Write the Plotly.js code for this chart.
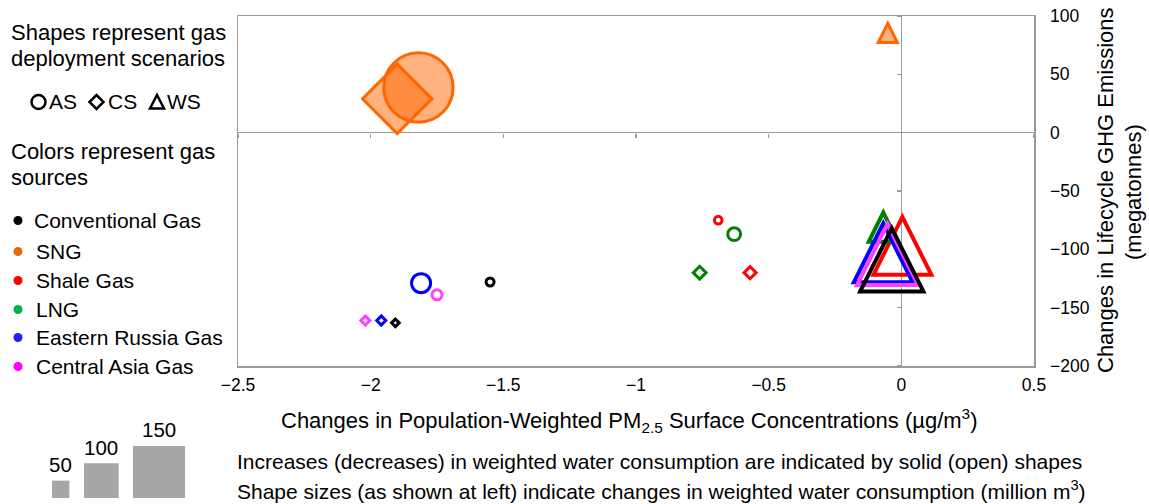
<!DOCTYPE html>
<html><head><meta charset="utf-8">
<script src="https://cdn.plot.ly/plotly-3.0.1.min.js"></script>
<style>html,body{margin:0;padding:0;background:#fff}#chart{width:1149px;height:504px}</style>
</head><body><div id="chart"></div>
<script>
// ---------------- DATA ----------------
const scenarios = ['AS', 'CS', 'WS'];
const sources = ['SNG', 'Shale Gas', 'LNG', 'Eastern Russia Gas', 'Central Asia Gas', 'Conventional Gas'];
// Change in population-weighted PM2.5 (ug/m3), per scenario [AS, CS, WS]
const pmSNG          = [-1.82, -1.90, -0.051];
const pmShale        = [-0.69, -0.57, 0.004];
const pmLNG          = [-0.63, -0.76, -0.068];
const pmEastRussia   = [-1.81, -1.96, -0.068];
const pmCentralAsia  = [-1.75, -2.02, -0.052];
const pmConventional = [-1.55, -1.907, -0.036];
// Change in lifecycle GHG emissions (megatonnes)
const ghgSNG          = [38.7, 29, 85.5];
const ghgShale        = [-75, -120, -97];
const ghgLNG          = [-87, -120, -81];
const ghgEastRussia   = [-129, -161, -103];
const ghgCentralAsia  = [-139, -161, -104.5];
const ghgConventional = [-128, -163, -109];
// Change in weighted water consumption (million m3); + solid, - open
const waterSNG          = [200, 200, 55];
const waterShale        = [-22, -35, -167];
const waterLNG          = [-37, -37, -84];
const waterEastRussia   = [-55, -26, -170];
const waterCentralAsia  = [-29, -26, -176];
const waterConventional = [-23, -22, -182];
// size legend
const sizeLegendValues = [50, 100, 150];
const legendSources = ['Conventional Gas', 'SNG', 'Shale Gas', 'LNG', 'Eastern Russia Gas', 'Central Asia Gas'];

// ---------------- STYLE ----------------
const FONT = '"Liberation Sans", Arial, Helvetica, sans-serif';
const lineColors = {'SNG':'#FF6600','Shale Gas':'#FF0000','LNG':'#008000','Eastern Russia Gas':'#0000FF','Central Asia Gas':'#FF40FF','Conventional Gas':'#000000'};
const dotColors = {'Conventional Gas':'#000000','SNG':'#E46C0A','Shale Gas':'#FF0000','LNG':'#00B050','Eastern Russia Gas':'#1F1FFF','Central Asia Gas':'#FF00FF'};
const solidFill = 'rgba(255,102,0,0.5)';
const pxPerUnit = 0.347;        // marker box side (px) per million m3

const pmBy = {'SNG':pmSNG,'Shale Gas':pmShale,'LNG':pmLNG,'Eastern Russia Gas':pmEastRussia,'Central Asia Gas':pmCentralAsia,'Conventional Gas':pmConventional};
const ghgBy = {'SNG':ghgSNG,'Shale Gas':ghgShale,'LNG':ghgLNG,'Eastern Russia Gas':ghgEastRussia,'Central Asia Gas':ghgCentralAsia,'Conventional Gas':ghgConventional};
const waterBy = {'SNG':waterSNG,'Shale Gas':waterShale,'LNG':waterLNG,'Eastern Russia Gas':waterEastRussia,'Central Asia Gas':waterCentralAsia,'Conventional Gas':waterConventional};

// AS (circle) and CS (diamond) as scatter markers
const traces = sources.map(src => {
  const w = waterBy[src].slice(0, 2);
  return {
    type: 'scatter', mode: 'markers', name: src,
    x: pmBy[src].slice(0, 2), y: ghgBy[src].slice(0, 2), text: scenarios.slice(0, 2),
    cliponaxis: false,
    marker: {
      symbol: ['circle', 'diamond'], opacity: 1,
      size: w.map((v, i) => Math.abs(v) * pxPerUnit * (i === 1 ? 1 / 1.3 : 1)),
      color: w.map(v => v > 0 ? solidFill : 'rgba(0,0,0,0)'),
      line: {color: lineColors[src], width: 3}
    },
    hoverinfo: 'x+y+text+name', showlegend: false
  };
});
// helper axes for ticks on the zero lines
traces.push({type:'scatter', x:[], y:[], xaxis:'x2', yaxis:'y2', showlegend:false, hoverinfo:'skip'});

// ---------------- LAYOUT ----------------
const W = 1149, H = 504, ML = 238, MR = 115, MT = 16, MB = 138;
const PW = W - ML - MR, PH = H - MT - MB;
const X = px => (px - ML) / PW;
const Y = py => (H - MB - py) / PH;
const xRange = [-2.5, 0.5], yRange = [-200, 100];
const grey = '#9A9A9A';

const ann = [];
const txt = (t, xpx, ypx, size, anchor, extra) => ann.push(Object.assign({
  text: t, xref: 'paper', yref: 'paper', x: X(xpx), y: Y(ypx), xanchor: anchor || 'left', yanchor: 'middle',
  showarrow: false, font: {family: FONT, size: size, color: '#000'}
}, extra || {}));

txt('Shapes represent gas', 9, 32, 22);
txt('deployment scenarios', 9, 58, 22);
txt('AS', 47, 102, 21); txt('CS', 106, 102, 21); txt('WS', 165, 102, 21);
txt('Colors represent gas', 9, 151, 22);
txt('sources', 9, 177, 22);
const legY = [220, 251, 280, 309, 337, 366];
legendSources.forEach((s, i) => txt(s, i === 0 ? 32 : 34, legY[i], 21));
txt('Changes in Population-Weighted PM<sub>2.5</sub> Surface Concentrations (\u00b5g/m<sup>3</sup>)', 629, 421, 22, 'center');
txt('Increases (decreases) in weighted water consumption are indicated by solid (open) shapes', 235, 461, 21);
txt('Shape sizes (as shown at left) indicate changes in weighted water consumption (million m<sup>3</sup>)', 235, 490, 21);
txt('Changes in Lifecycle GHG Emissions', 1105, 190, 22, 'center', {textangle: -90});
txt('(megatonnes)', 1133, 192, 22, 'center', {textangle: -90});

const shapes = [];
// WS (triangle) marks: drawn as triangles anchored on the data point, sized in pixels
sources.forEach(src => {
  const v = waterBy[src][2];
  const s = Math.abs(v) * pxPerUnit, h = s / 2;
  shapes.push({type: 'path', xref: 'x', yref: 'y', xsizemode: 'pixel', ysizemode: 'pixel',
    xanchor: pmBy[src][2], yanchor: ghgBy[src][2], layer: 'above',
    path: `M ${-h} ${-h} L 0 ${h} L ${h} ${-h} Z`,
    fillcolor: v > 0 ? solidFill : 'rgba(0,0,0,0)',
    line: {color: lineColors[src], width: v > 0 ? 3 : 4}});
});
// legend shape glyphs
const glyphLine = {color: '#000', width: 2.5};
shapes.push({type:'circle', xref:'paper', yref:'paper', x0:X(31.5), x1:X(45.5), y0:Y(109), y1:Y(95), line:glyphLine});
shapes.push({type:'path', xref:'paper', yref:'paper', line:glyphLine,
  path:`M ${X(89.5)} ${Y(102)} L ${X(96.5)} ${Y(95)} L ${X(103.5)} ${Y(102)} L ${X(96.5)} ${Y(109)} Z`});
shapes.push({type:'path', xref:'paper', yref:'paper', line:glyphLine,
  path:`M ${X(150)} ${Y(108.5)} L ${X(157)} ${Y(95)} L ${X(164)} ${Y(108.5)} Z`});
// colour dots
legendSources.forEach((s, i) => {
  const r = 4.5, cx = 18, cy = legY[i] + 0.5;
  shapes.push({type:'circle', xref:'paper', yref:'paper', x0:X(cx - r), x1:X(cx + r), y0:Y(cy + r), y1:Y(cy - r),
    fillcolor: dotColors[s], line:{width:0}});
});
// size legend squares
const sqLeft = [52, 84, 133], base = 498;
sizeLegendValues.forEach((v, i) => {
  const side = v * pxPerUnit;
  shapes.push({type:'rect', xref:'paper', yref:'paper', x0:X(sqLeft[i]), x1:X(sqLeft[i] + side), y0:Y(base), y1:Y(base - side),
    fillcolor:'#A6A6A6', line:{width:0}});
  txt(String(v), sqLeft[i] + side / 2, base - side - 16, 20.5, 'center');
});

const layout = {
  width: W, height: H, margin: {l: ML, r: MR, t: MT, b: MB, pad: 0},
  paper_bgcolor: '#fff', plot_bgcolor: '#fff', showlegend: false,
  font: {family: FONT, size: 17, color: '#000'},
  xaxis: {range: xRange, dtick: 0.5, tick0: -2.5, showgrid: false, zeroline: true, zerolinecolor: grey, zerolinewidth: 1.5,
    showline: true, mirror: true, linecolor: grey, linewidth: 1.5, ticks: '', ticklabelstandoff: 2,
    tickfont: {family: FONT, size: 17.5, color: '#000'}, fixedrange: true},
  yaxis: {range: yRange, dtick: 50, showgrid: false, zeroline: true, zerolinecolor: grey, zerolinewidth: 1.5,
    side: 'right', showline: true, mirror: true, linecolor: grey, linewidth: 1.5, ticks: '', ticklabelstandoff: 11,
    tickfont: {family: FONT, size: 17.5, color: '#000'}, fixedrange: true},
  xaxis2: {overlaying: 'x', anchor: 'free', position: (0 - yRange[0]) / (yRange[1] - yRange[0]), range: xRange, dtick: 0.5, tick0: -2.5,
    ticks: 'outside', ticklen: 4, tickcolor: grey, tickwidth: 1.5, showticklabels: false, showline: false, showgrid: false, zeroline: false, fixedrange: true},
  yaxis2: {overlaying: 'y', anchor: 'free', side: 'left', position: (0 - xRange[0]) / (xRange[1] - xRange[0]), range: yRange, dtick: 50,
    ticks: 'outside', ticklen: 4, tickcolor: grey, tickwidth: 1.5, showticklabels: false, showline: false, showgrid: false, zeroline: false, fixedrange: true},
  annotations: ann, shapes: shapes
};
Plotly.newPlot('chart', traces, layout, {displayModeBar: false, staticPlot: true});
</script></body></html>
